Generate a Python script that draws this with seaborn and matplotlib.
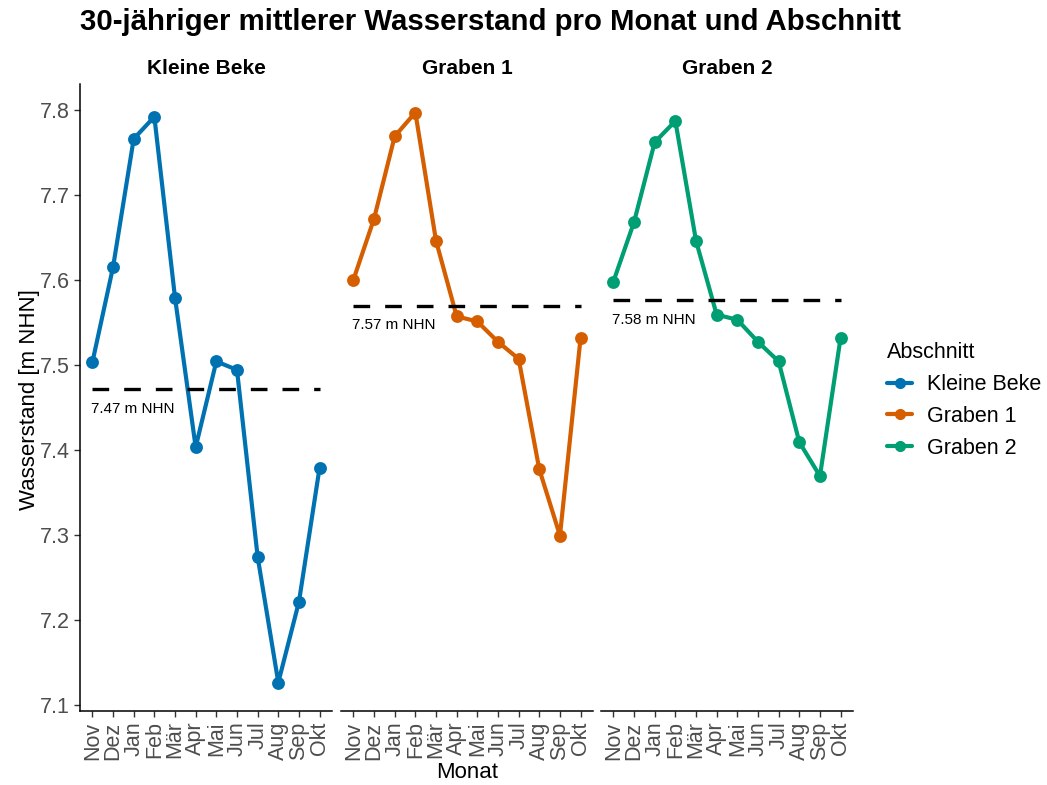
import numpy as np
import pandas as pd
import matplotlib
matplotlib.use('Agg')
import matplotlib.pyplot as plt
import seaborn as sns
from matplotlib.lines import Line2D

# data
months = ['Nov', 'Dez', 'Jan', 'Feb', 'Mär', 'Apr', 'Mai', 'Jun', 'Jul', 'Aug', 'Sep', 'Okt']
abschnitte = ['Kleine Beke', 'Graben 1', 'Graben 2']
kleine_beke = [7.503, 7.615, 7.766, 7.792, 7.579, 7.403, 7.504, 7.494, 7.274, 7.126, 7.221, 7.379]
graben_1 = [7.600, 7.672, 7.769, 7.797, 7.646, 7.557, 7.551, 7.527, 7.507, 7.377, 7.299, 7.532]
graben_2 = [7.598, 7.668, 7.762, 7.787, 7.646, 7.559, 7.553, 7.527, 7.504, 7.409, 7.369, 7.532]
colors = ['#0072B2', '#D55E00', '#009E73']

df = pd.DataFrame({
    'Monat': months * 3,
    'Abschnitt': np.repeat(abschnitte, len(months)),
    'Wasserstand': kleine_beke + graben_1 + graben_2,
})

sns.set_theme(style='ticks')
plt.rcParams['font.family'] = ['Liberation Sans', 'DejaVu Sans']
plt.rcParams['text.color'] = 'black'
plt.rcParams['axes.labelcolor'] = 'black'

W, H = 1047, 785
fig = plt.figure(figsize=(W / 100, H / 100), dpi=100)

# ggplot-like 5% expansion on y
lo, hi = df['Wasserstand'].min(), df['Wasserstand'].max()
pad = 0.05 * (hi - lo)

lefts = [80, 341, 601]
for i, (name, col) in enumerate(zip(abschnitte, colors)):
    ax = fig.add_axes([lefts[i] / W, 74 / H, 252 / W, 627 / H])
    sub = df[df['Abschnitt'] == name]
    sns.pointplot(data=sub, x='Monat', y='Wasserstand', order=months, color=col,
                  errorbar=None, markers='o', markersize=7, linewidth=3, ax=ax)

    mean = sub['Wasserstand'].mean()
    ax.hlines(mean, 0, len(months) - 1, colors='black', linestyles=(0, (5, 4.5)), linewidth=2.4)
    ax.text(-0.05, mean - 0.023, f'{mean:.2f} m NHN', fontsize=11, ha='left', va='center')

    ax.set_xlim(-0.6, len(months) - 0.4)
    ax.set_ylim(lo - pad, hi + pad)
    ax.set_xlabel('')
    ax.set_ylabel('')
    ax.tick_params(axis='both', labelsize=15.5, colors='#333333', labelcolor='#4D4D4D',
                   length=4, width=1)
    ax.tick_params(axis='x', labelrotation=90)
    for s in ax.spines.values():
        s.set_linewidth(1.1)
        s.set_color('black')

    if i == 0:
        ax.set_yticks(np.round(np.arange(7.1, 7.81, 0.1), 1))
        ax.set_yticklabels([f'{v:.1f}' for v in np.arange(7.1, 7.81, 0.1)])
        sns.despine(ax=ax)
    else:
        ax.set_yticks([])
        sns.despine(ax=ax, left=True)

    ax.text(0.5, 1 + 15 / 627, name, transform=ax.transAxes, ha='center', va='center',
            fontsize=15, fontweight='bold')

fig.text(80 / W, 1 - 22 / H, '30-jähriger mittlerer Wasserstand pro Monat und Abschnitt',
         fontsize=21.2, fontweight='bold', ha='left', va='center')
fig.text(30 / W, 1 - 400 / H, 'Wasserstand [m NHN]', rotation=90, fontsize=16,
         ha='center', va='center')
fig.text(467 / W, 1 - 773 / H, 'Monat', fontsize=16, ha='center', va='center')

handles = [Line2D([0], [0], color=c, marker='o', markersize=7, linewidth=3) for c in colors]
fig.legend(handles, abschnitte, title='Abschnitt', loc='upper left',
           bbox_to_anchor=(868 / W, 1 - 323 / H), frameon=False, fontsize=15.5,
           title_fontsize=15.5, handlelength=1.15, handletextpad=0.7,
           alignment='left', labelspacing=0.5)

fig.savefig('out.png', dpi=100)
